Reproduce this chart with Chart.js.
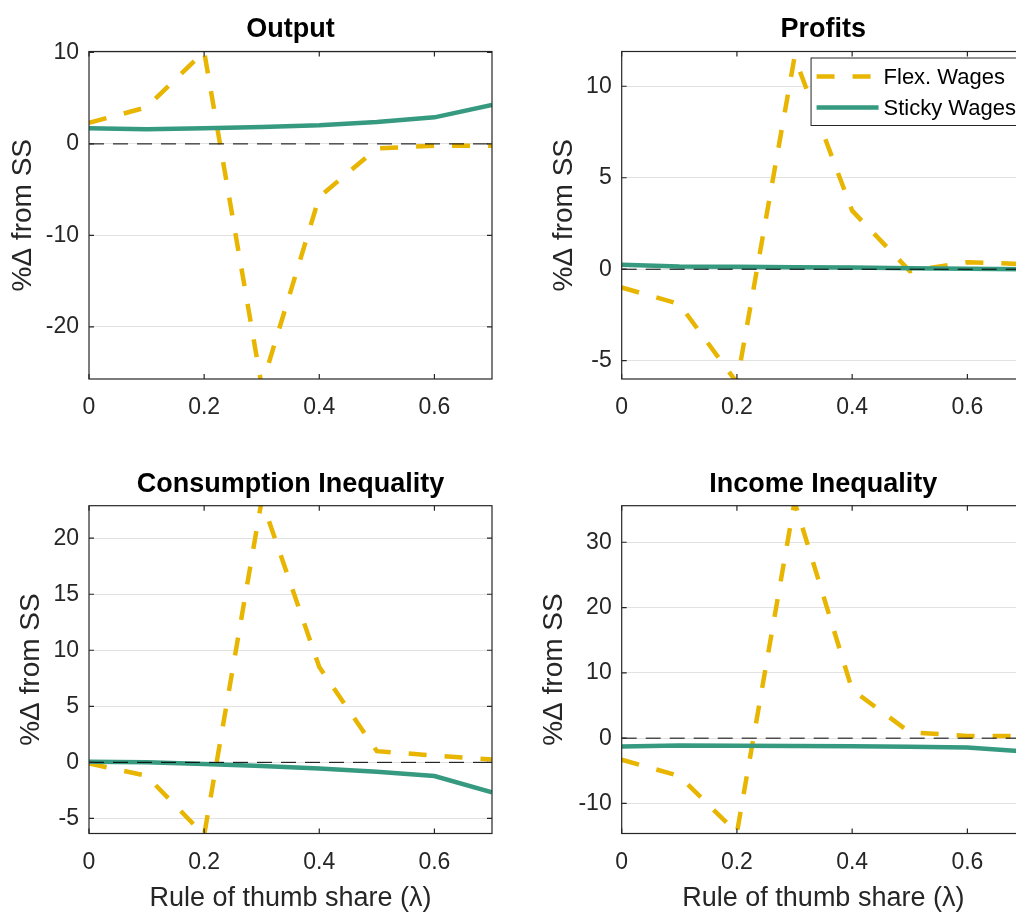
<!DOCTYPE html>
<html>
<head>
<meta charset="utf-8">
<title>Rule of thumb share</title>
<script src="https://cdn.jsdelivr.net/npm/chart.js@4.4.1/dist/chart.umd.min.js"></script>
<style>
  html, body { margin: 0; padding: 0; background: #fff; overflow: hidden; }
  #fig { position: relative; width: 1016px; height: 913px; overflow: hidden; background: #fff; }
  canvas { position: absolute; }
</style>
</head>
<body>
<div id="fig">
  <canvas id="output" width="508" height="440" style="left:0;top:0"></canvas>
  <canvas id="profits" width="540" height="440" style="left:508px;top:0"></canvas>
  <canvas id="consumption" width="508" height="480" style="left:0;top:440px"></canvas>
  <canvas id="income" width="540" height="480" style="left:508px;top:440px"></canvas>
</div>
<script>
// data
const lambda = [0, 0.1, 0.2, 0.3, 0.4, 0.5, 0.6, 0.7];
const xTicks = [0, 0.2, 0.4, 0.6];
const seriesNames = ['Flex. Wages', 'Sticky Wages'];

const outputFlex   = [2.3, 4.0, 10.1, -26.5, -5.8, -0.5, -0.2, -0.2];
const outputSticky = [1.7, 1.6, 1.7, 1.85, 2.05, 2.4, 2.9, 4.25];
const outputTicks  = [-20, -10, 0, 10];
const outputRange  = [-25.7, 10.1];

const profitsFlex   = [-1.0, -1.9, -6.2, 11.6, 3.2, -0.1, 0.38, 0.28];
const profitsSticky = [0.25, 0.15, 0.13, 0.11, 0.09, 0.06, 0.03, 0.0];
const profitsTicks  = [-5, 0, 5, 10];
const profitsRange  = [-6.0, 11.9];

const consFlex   = [-0.1, -1.2, -6.5, 23.4, 8.5, 1.0, 0.6, 0.25];
const consSticky = [0.05, 0.0, -0.15, -0.33, -0.54, -0.83, -1.22, -2.68];
const consTicks  = [-5, 0, 5, 10, 15, 20];
const consRange  = [-6.35, 22.9];

const incomeFlex   = [-3.3, -5.8, -14.5, 36.2, 7.4, 0.9, 0.35, 0.35];
const incomeSticky = [-1.28, -1.13, -1.18, -1.2, -1.24, -1.3, -1.43, -2.05];
const incomeTicks  = [-10, 0, 10, 20, 30];
const incomeRange  = [-14.6, 35.6];

const FONT = "'Liberation Sans', Arial, Helvetica, sans-serif";
const flexColor = '#E8B500';
const stickyColor = '#369A80';
const axisColor = '#262626';

Chart.defaults.font.family = FONT;

// zero line, axes box and inward tick marks (matlab style)
const axesBox = {
  id: 'axesBox',
  afterDatasetsDraw(chart) {
    const { ctx, chartArea: a, scales: { x, y } } = chart;
    ctx.save();
    const y0 = y.getPixelForValue(0);
    ctx.beginPath();
    ctx.setLineDash([15, 9]);
    ctx.lineWidth = 1;
    ctx.strokeStyle = '#000';
    ctx.moveTo(a.left, y0);
    ctx.lineTo(a.right, y0);
    ctx.stroke();
    ctx.setLineDash([]);

    ctx.strokeStyle = axisColor;
    ctx.lineWidth = 1.2;
    ctx.strokeRect(a.left, a.top, a.width, a.height);
    ctx.beginPath();
    x.ticks.forEach(t => {
      const px = x.getPixelForValue(t.value);
      ctx.moveTo(px, a.bottom); ctx.lineTo(px, a.bottom - 5);
      ctx.moveTo(px, a.top); ctx.lineTo(px, a.top + 5);
    });
    y.ticks.forEach(t => {
      const py = y.getPixelForValue(t.value);
      ctx.moveTo(a.left, py); ctx.lineTo(a.left + 5, py);
      ctx.moveTo(a.right, py); ctx.lineTo(a.right - 5, py);
    });
    ctx.stroke();
    ctx.restore();
  }
};

// boxed legend inside the plot, top right
const boxLegend = {
  id: 'boxLegend',
  afterDraw(chart, args, opts) {
    if (!opts.show) return;
    const { ctx, chartArea: a } = chart;
    const sets = chart.data.datasets;
    ctx.save();
    ctx.font = '22px ' + FONT;
    const textW = Math.max(...sets.map(d => ctx.measureText(d.label).width));
    const w = 72.5 + textW + 6, h = 67.5;
    const left = a.right - 3 - w, top = a.top + 6.5;
    ctx.fillStyle = '#fff';
    ctx.fillRect(left, top, w, h);
    ctx.strokeStyle = axisColor;
    ctx.lineWidth = 1;
    ctx.strokeRect(left, top, w, h);
    sets.forEach((d, i) => {
      const cy = top + 18.5 + i * 31;
      ctx.beginPath();
      ctx.setLineDash(d.borderDash || []);
      ctx.lineWidth = d.borderWidth;
      ctx.strokeStyle = d.borderColor;
      ctx.moveTo(left + 5.5, cy);
      ctx.lineTo(left + 67.5, cy);
      ctx.stroke();
      ctx.setLineDash([]);
      ctx.fillStyle = '#000';
      ctx.textBaseline = 'middle';
      ctx.fillText(d.label, left + 72.5, cy + 1);
    });
    ctx.restore();
  }
};

function points(ys) {
  return lambda.map((x, i) => ({ x: x, y: ys[i] }));
}

function makePanel(id, p) {
  return new Chart(document.getElementById(id), {
    type: 'line',
    data: {
      datasets: [
        { label: seriesNames[0], data: points(p.flex), borderColor: flexColor, borderWidth: 4.5,
          borderDash: [18, 18], pointRadius: 0, tension: 0, clip: 0, order: 1 },
        { label: seriesNames[1], data: points(p.sticky), borderColor: stickyColor, borderWidth: 4.5,
          pointRadius: 0, tension: 0, clip: 0, order: 0 }
      ]
    },
    options: {
      responsive: false,
      animation: false,
      devicePixelRatio: 1,
      layout: { padding: { left: 0, right: p.padRight, top: 0, bottom: 0 } },
      plugins: {
        legend: { display: false },
        tooltip: { enabled: false },
        title: {
          display: true, text: p.title, fullSize: false, color: '#000',
          font: { size: 27, weight: 'bold' },
          padding: { top: p.titleTop, bottom: p.titleBottom }
        },
        boxLegend: { show: !!p.legend }
      },
      scales: {
        x: {
          type: 'linear', min: 0, max: 0.7,
          afterBuildTicks: s => { s.ticks = xTicks.map(v => ({ value: v })); },
          afterFit: s => { s.height = p.xH; },
          ticks: { font: { size: 23 }, color: axisColor, padding: 15, callback: v => String(v) },
          grid: { display: false, drawTicks: false },
          border: { display: false },
          title: {
            display: !!p.xTitle, text: 'Rule of thumb share (λ)', color: axisColor,
            font: { size: 27 }, padding: { top: 0, bottom: 4.8 }
          }
        },
        y: {
          min: p.range[0], max: p.range[1],
          afterBuildTicks: s => { s.ticks = p.ticks.map(v => ({ value: v })); },
          afterFit: s => { s.width = p.yW; },
          ticks: { font: { size: 23 }, color: axisColor, padding: 10, callback: v => String(v) },
          grid: { color: '#e2e2e2', lineWidth: 1, drawTicks: false },
          border: { display: false },
          title: {
            display: true, text: '%Δ from SS', color: axisColor,
            font: { size: 28 }, padding: { top: p.yTitlePad, bottom: 0 }
          }
        }
      }
    },
    plugins: [axesBox, boxLegend]
  });
}

makePanel('output', {
  title: 'Output', flex: outputFlex, sticky: outputSticky, ticks: outputTicks, range: outputRange,
  yW: 89, padRight: 16, xH: 61, titleTop: 13.5, titleBottom: 5.6, yTitlePad: 6.5
});
makePanel('profits', {
  title: 'Profits', flex: profitsFlex, sticky: profitsSticky, ticks: profitsTicks, range: profitsRange,
  yW: 113.7, padRight: 23, xH: 61, titleTop: 13.5, titleBottom: 5.6, yTitlePad: 39, legend: true
});
makePanel('consumption', {
  title: 'Consumption Inequality', flex: consFlex, sticky: consSticky, ticks: consTicks, range: consRange,
  yW: 89, padRight: 16, xH: 86.5, titleTop: 28, titleBottom: 5.3, yTitlePad: 14.9, xTitle: true
});
makePanel('income', {
  title: 'Income Inequality', flex: incomeFlex, sticky: incomeSticky, ticks: incomeTicks, range: incomeRange,
  yW: 113.7, padRight: 23, xH: 86.5, titleTop: 28, titleBottom: 5.3, yTitlePad: 29.9, xTitle: true
});
</script>
</body>
</html>
